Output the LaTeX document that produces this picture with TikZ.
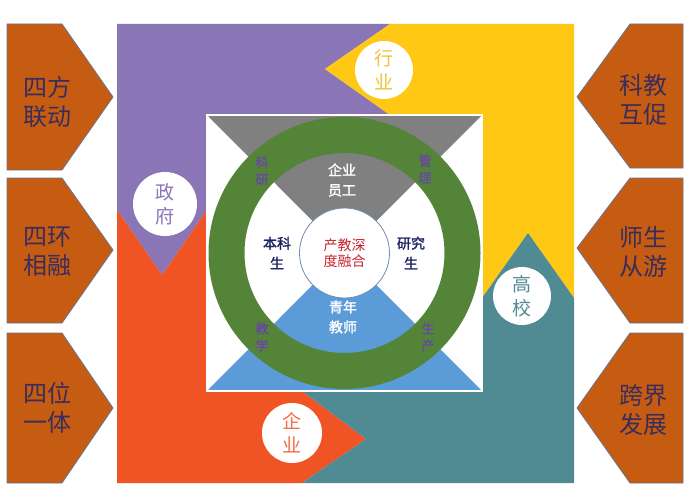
\documentclass[tikz,border=0pt]{standalone}
\usepackage{fontspec}
\setmainfont{Noto Sans CJK SC}
\newfontfamily\cjkb[FakeBold=1.6]{Noto Sans CJK SC}
\newfontfamily\cjkm[FakeBold=0.8]{Noto Sans CJK SC}
\definecolor{cpurple}{HTML}{8A75B6}
\definecolor{cyellow}{HTML}{FEC815}
\definecolor{corange}{HTML}{F15424}
\definecolor{cteal}{HTML}{508B93}
\definecolor{cgreen}{HTML}{548437}
\definecolor{cgray}{HTML}{808080}
\definecolor{cblue}{HTML}{5B9BD8}
\definecolor{cside}{HTML}{C65B12}
\definecolor{csideline}{HTML}{6A7590}
\definecolor{csidetext}{HTML}{3A2D5A}
\definecolor{cnavy}{HTML}{1D2463}
\definecolor{cred}{HTML}{C8232C}
\definecolor{cringtxt}{HTML}{6A45A8}
\definecolor{cgold}{HTML}{EDC43A}
\definecolor{cedge}{HTML}{6D8CAC}
\tikzset{
  sidebox/.style={fill=cside, draw=csideline, line width=0.8pt, line join=miter},
  sidetext/.style={align=center, text=csidetext, font=\fontsize{24}{29}\selectfont, inner sep=0pt},
  agent/.style={circle, fill=white, minimum size=#1, inner sep=0pt, align=center, font=\fontsize{19}{24}\selectfont},
  innertext/.style={align=center, inner sep=0pt, font=\cjkb\fontsize{14}{20}\selectfont},
  ringtext/.style={align=center, inner sep=0pt, text=cringtxt, font=\cjkm\fontsize{13}{17}\selectfont},
}
\begin{document}
\begin{tikzpicture}[x=1pt,y=-1pt]
\useasboundingbox[fill=white] (0,0) rectangle (698,500);
% four coloured L-shaped regions
\fill[cpurple] (117,24) -- (390,24) -- (325,69) -- (390,115) -- (207,115) -- (207,210) -- (162,275) -- (117,210) -- cycle;
\fill[cyellow] (390,24) -- (574,24) -- (574,298) -- (528,233) -- (482,298) -- (482,115) -- (390,115) -- (325,69) -- cycle;
\fill[corange] (117,210) -- (162,275) -- (207,210) -- (207,391) -- (302,391) -- (366,439) -- (302,483) -- (117,483) -- cycle;
\fill[cteal] (482,298) -- (528,233) -- (574,298) -- (574,483) -- (302,483) -- (366,439) -- (302,391) -- (482,391) -- cycle;
% inner square
\fill[white] (207,115) rectangle (482,391);
\coordinate (ctr) at (344.5,253);
\fill[cgray] (208,116) -- (481,116) -- (ctr) -- cycle;
\fill[cblue] (208,390) -- (481,390) -- (ctr) -- cycle;
\draw[white, line width=1.2pt] (207,115) rectangle (482,391);
% green ring
\fill[cgreen, even odd rule] (ctr) circle[radius=136] (ctr) circle[radius=100];
% centre circle
\node[circle, fill=white, draw=cedge, line width=0.8pt, minimum size=90pt, inner sep=0pt,
      align=center, text=cred, font=\fontsize{14}{16}\selectfont] (core) at (ctr) {产教深\\度融合};
% inner labels
\node[innertext, text=white] (staff) at (342,180) {企业\\员工};
\node[innertext, text=white] (teacher) at (343,317) {青年\\教师};
\node[innertext, text=cnavy] (under) at (277,253) {本科\\生};
\node[innertext, text=cnavy] (grad) at (411,253) {研究\\生};
% ring labels
\node[ringtext] (keyan) at (262,171) {科\\研};
\node[ringtext] (guanli) at (425,169) {管\\理};
\node[ringtext] (jiaoxue) at (262,337) {教\\学};
\node[ringtext] (shengchan) at (428,337) {生\\产};
% agent circles
\node[agent=58pt, text=cgold] (hangye) at (384,70) {行\\业};
\node[agent=64pt, text=cpurple] (zhengfu) at (165,204) {政\\府};
\node[agent=58pt, text=cteal] (gaoxiao) at (522,296) {高\\校};
\node[agent=60pt, text=corange!85!white] (qiye) at (292,433) {企\\业};
% left pentagons
\draw[sidebox] (7,24) -- (62,24) -- (113,97) -- (62,170) -- (7,170) -- cycle;
\draw[sidebox] (7,178) -- (62,178) -- (113,250) -- (62,323) -- (7,323) -- cycle;
\draw[sidebox] (7,333) -- (62,333) -- (113,408) -- (62,483) -- (7,483) -- cycle;
\node[sidetext] (l1) at (47,102) {四方\\联动};
\node[sidetext] (l2) at (47,252) {四环\\相融};
\node[sidetext] (l3) at (47,408) {四位\\一体};
% right pentagons
\draw[sidebox] (683,24) -- (630,24) -- (577,97) -- (630,168) -- (683,168) -- cycle;
\draw[sidebox] (683,178) -- (630,178) -- (577,248) -- (630,323) -- (683,323) -- cycle;
\draw[sidebox] (683,333) -- (630,333) -- (577,408) -- (630,483) -- (683,483) -- cycle;
\node[sidetext] (r1) at (643,100) {科教\\互促};
\node[sidetext] (r2) at (643,252) {师生\\从游};
\node[sidetext] (r3) at (643,410) {跨界\\发展};
\end{tikzpicture}
\end{document}
